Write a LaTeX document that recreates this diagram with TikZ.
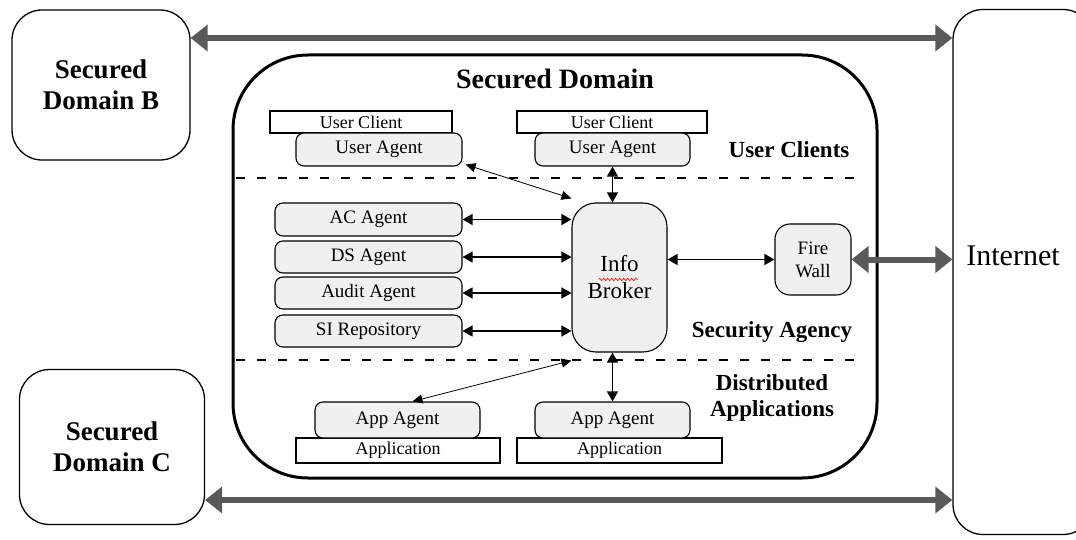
\documentclass[tikz,border=0pt]{standalone}
\usepackage{fontspec}
\setmainfont{Liberation Serif}
\usetikzlibrary{arrows.meta,decorations.pathmorphing}
\definecolor{biggray}{HTML}{5A5A5A}
\definecolor{agentfill}{HTML}{F0F0F0}
\tikzset{
  sidebox/.style={draw, line width=1.3pt, rounded corners=30pt, align=center,
    font=\fontsize{27}{31}\selectfont\bfseries, inner sep=0pt},
  mainbox/.style={draw, line width=3pt, rounded corners=75pt, inner sep=0pt},
  clientbox/.style={draw, fill=white, line width=1.1pt, inner sep=0pt,
    font=\fontsize{18}{20}\selectfont},
  agentbox/.style={draw, fill=agentfill, line width=1.1pt, rounded corners=8pt, inner sep=0pt,
    font=\fontsize{19}{21}\selectfont},
  brokerbox/.style={draw, fill=agentfill, line width=1.1pt, rounded corners=24pt, inner sep=0pt,
    align=center, font=\fontsize{23}{27}\selectfont},
  fwbox/.style={draw, fill=agentfill, line width=1.1pt, rounded corners=15pt, inner sep=0pt,
    align=center, font=\fontsize{19}{23}\selectfont},
  lbl/.style={font=\fontsize{23}{26}\selectfont\bfseries, align=center, inner sep=0pt},
  bigarrow/.style={draw=biggray, line width=6pt, {Triangle[length=17pt,width=26pt]}-{Triangle[length=17pt,width=26pt]}},
  smallarrow/.style={draw, line width=1.3pt, {Triangle[length=10pt,width=11pt]}-{Triangle[length=10pt,width=11pt]}},
  thinarrow/.style={draw, line width=0.8pt, {Triangle[length=10pt,width=9pt]}-{Triangle[length=10pt,width=9pt]}},
  sepline/.style={draw, line width=2.5pt, dash pattern=on 9pt off 12pt},
}
\begin{document}
\begin{tikzpicture}[x=1pt,y=-1pt]
\useasboundingbox (0,0) rectangle (1076,540);
\fill[white] (0,0) rectangle (1076,540);

% outer boxes
\node[sidebox, minimum width=178pt, minimum height=150pt] (B) at (101,85) {Secured\\Domain B};
\node[sidebox, minimum width=185pt, minimum height=155pt] (C) at (112,447) {Secured\\Domain C};
\node[draw, line width=1.3pt, rounded corners=30pt, minimum width=140pt, minimum height=525pt, inner sep=0pt] (internet) at (1023,272) {};
\node[font=\fontsize{30}{34}\selectfont, inner sep=0pt] (internettext) at (1013,256) {Internet};

% main domain
\node[mainbox, minimum width=644pt, minimum height=423pt] (main) at (555,266.5) {};
\node[font=\fontsize{28}{32}\selectfont\bfseries, inner sep=0pt] (title) at (555,79) {Secured Domain};

% separators
\coordinate (s1a) at (236,178); \coordinate (s1b) at (862,178);
\coordinate (s2a) at (236,360); \coordinate (s2b) at (862,360);
\draw[sepline] (s1a) -- (s1b);
\draw[sepline] (s2a) -- (s2b);

% user clients
\node[clientbox, minimum width=182pt, minimum height=22pt] (uc1) at (361,122) {User Client};
\node[clientbox, minimum width=190pt, minimum height=22pt] (uc2) at (612,122) {User Client};
\node[agentbox, minimum width=166pt, minimum height=33pt] (ua1) at (379,149.5) {User Agent};
\node[agentbox, minimum width=155pt, minimum height=33pt] (ua2) at (612.5,149.5) {User Agent};
\node[lbl] (ucl) at (789,150) {User Clients};

% security agency
\node[agentbox, minimum width=187pt, minimum height=33pt] (ac) at (368.5,219.5) {AC Agent};
\node[agentbox, minimum width=187pt, minimum height=32pt] (ds) at (368.5,257) {DS Agent};
\node[agentbox, minimum width=187pt, minimum height=32pt] (audit) at (368.5,293) {Audit Agent};
\node[agentbox, minimum width=187pt, minimum height=32pt] (si) at (368.5,331) {SI Repository};
\node[brokerbox, minimum width=95pt, minimum height=149pt] (broker) at (619.5,277.5) {Info\\Broker};
\node[fwbox, minimum width=76pt, minimum height=71pt] (fw) at (813,259.5) {Fire\\Wall};
\node[lbl] (sal) at (772,332) {Security Agency};
\draw[red, line width=0.6pt, decorate, decoration={snake, amplitude=1.2pt, segment length=4pt}]
  ([xshift=-21pt,yshift=-2pt]broker.center) -- ([xshift=18pt,yshift=-2pt]broker.center);

% distributed applications
\node[clientbox, minimum width=204pt, minimum height=25pt] (app1) at (398,450.5) {Application};
\node[clientbox, minimum width=205pt, minimum height=25pt] (app2) at (619.5,450.5) {Application};
\node[agentbox, minimum width=165pt, minimum height=36pt] (aa1) at (397.5,420) {App Agent};
\node[agentbox, minimum width=155pt, minimum height=36pt] (aa2) at (612.5,420) {App Agent};
\node[lbl] (dal) at (772,398) {Distributed\\Applications};

% connectors
\path[smallarrow] (ac.east) -- (ac.east -| broker.west);
\path[smallarrow] (ds.east) -- (ds.east -| broker.west);
\path[smallarrow] (audit.east) -- (audit.east -| broker.west);
\path[smallarrow] (si.east) -- (si.east -| broker.west);
\path[smallarrow] (ua2.south) -- (ua2.south |- broker.north);
\path[smallarrow] (aa2.north) -- (aa2.north |- broker.south);
\path[thinarrow] ([xshift=3pt,yshift=2pt]ua1.south east) -- ([yshift=4pt]broker.north west);
\path[thinarrow] ([yshift=-8pt]broker.south west) -- ([xshift=15pt]aa1.north);
\path[smallarrow] (fw.west -| broker.east) -- (fw.west);

\coordinate (tA) at (0,38);
\coordinate (tB) at (0,500);
\path[bigarrow] (B.east |- tA) -- (internet.west |- tA);
\path[bigarrow] (C.east |- tB) -- (internet.west |- tB);
\path[bigarrow] (fw.east) -- (internet.west |- fw.east);
\end{tikzpicture}
\end{document}
